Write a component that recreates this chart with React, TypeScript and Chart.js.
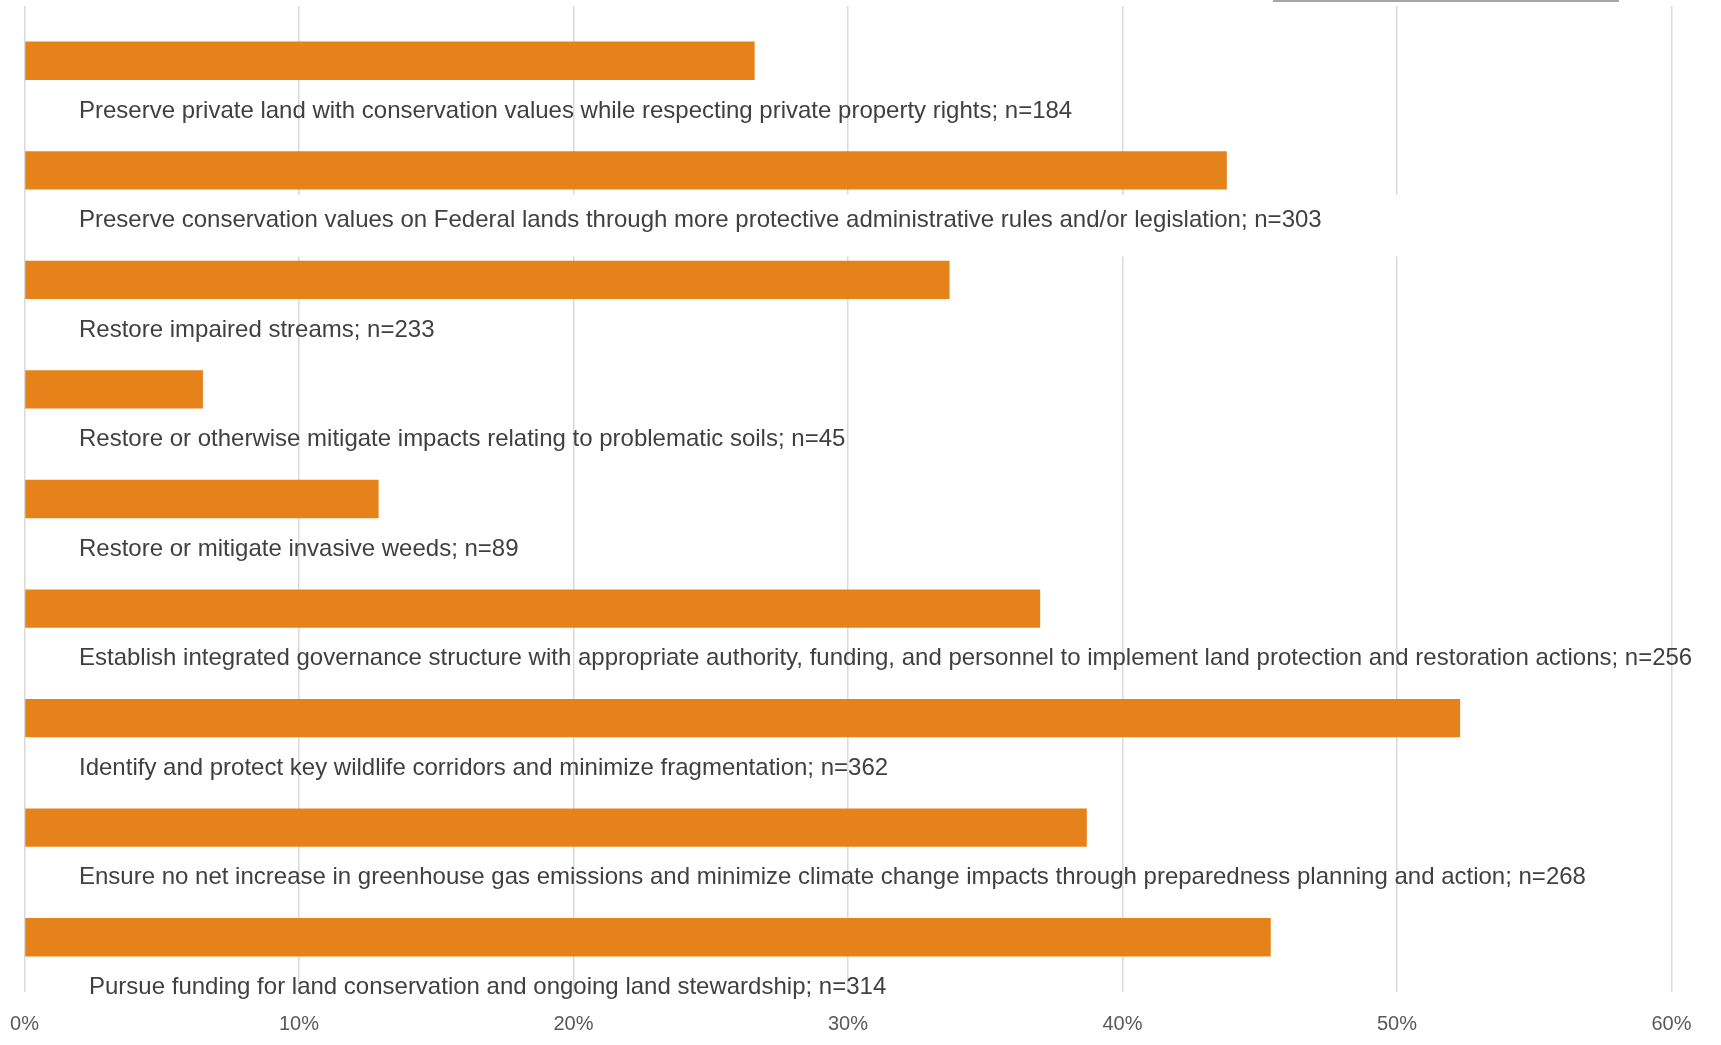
import React, { useEffect, useRef } from "react";
import { Chart, registerables } from "chart.js";

Chart.register(...registerables);

const categories: string[] = [
  "Preserve private land with conservation values while respecting private property rights",
  "Preserve conservation values on Federal lands through more protective administrative rules and/or legislation",
  "Restore impaired streams",
  "Restore or otherwise mitigate impacts relating to problematic soils",
  "Restore or mitigate invasive weeds",
  "Establish integrated governance structure with appropriate authority, funding, and personnel to implement land protection and restoration actions",
  "Identify and protect key wildlife corridors and minimize fragmentation",
  "Ensure no net increase in greenhouse gas emissions and minimize climate change impacts through preparedness planning and action",
  "Pursue funding for land conservation and ongoing land stewardship",
];

const counts: number[] = [184, 303, 233, 45, 89, 256, 362, 268, 314];

const percentages: number[] = [26.6, 43.8, 33.7, 6.5, 12.9, 37.0, 52.3, 38.7, 45.4];

const xTickValues: number[] = [0, 10, 20, 30, 40, 50, 60];

const BAR_COLOR = "#E6821A";
const TEXT_COLOR = "#404040";
const GRID_COLOR = "#D9D9D9";
const TICK_COLOR = "#595959";
const FONT = "'Liberation Sans', Arial, sans-serif";

const belowLabelsPlugin = {
  id: "belowLabels",
  afterDatasetsDraw(chart: any) {
    const { ctx, chartArea } = chart;
    const meta = chart.getDatasetMeta(0);
    ctx.save();
    ctx.font = `24px ${FONT}`;
    ctx.textBaseline = "middle";
    ctx.textAlign = "left";
    meta.data.forEach((bar: any, i: number) => {
      const p = bar.getProps(["y", "height"], true);
      const tx = chartArea.left + 54.5 + (i === categories.length - 1 ? 10 : 0);
      const ty = p.y + p.height / 2 + 31;
      const text = `${categories[i]}; n=${counts[i]}`;
      if (i === 1) {
        const w = ctx.measureText(text).width;
        ctx.fillStyle = "#FFFFFF";
        ctx.fillRect(tx - 40, ty - 26, w + 140, 62);
      }
      ctx.fillStyle = TEXT_COLOR;
      ctx.fillText(text, tx, ty);
    });
    ctx.restore();
  },
  afterDraw(chart: any) {
    const { ctx, width } = chart;
    ctx.save();
    ctx.strokeStyle = "#A6A6A6";
    ctx.lineWidth = 2;
    ctx.beginPath();
    ctx.moveTo(width * 0.7397, 1);
    ctx.lineTo(width * 0.9407, 1);
    ctx.stroke();
    ctx.restore();
  },
};

export default function App() {
  const canvasRef = useRef<HTMLCanvasElement | null>(null);

  useEffect(() => {
    if (!canvasRef.current) return;
    const chart = new Chart(canvasRef.current, {
      type: "bar",
      data: {
        labels: categories,
        datasets: [
          {
            data: percentages,
            backgroundColor: BAR_COLOR,
            borderWidth: 0,
            categoryPercentage: 1,
            barPercentage: 0.35,
          },
        ],
      },
      options: {
        indexAxis: "y",
        animation: false,
        responsive: false,
        devicePixelRatio: 1,
        layout: {
          padding: { left: 24.5, right: 49.5, top: 6, bottom: 0 },
        },
        plugins: {
          legend: { display: false },
          tooltip: { enabled: false },
          title: { display: false },
        },
        scales: {
          x: {
            type: "linear",
            min: 0,
            max: 60,
            afterBuildTicks: (scale: any) => {
              scale.ticks = xTickValues.map((v) => ({ value: v }));
            },
            afterFit: (scale: any) => {
              scale.height = 53;
            },
            grid: {
              color: GRID_COLOR,
              lineWidth: 1.5,
              drawTicks: true,
              tickLength: 20,
              tickColor: "rgba(0,0,0,0)",
            },
            border: { display: false },
            ticks: {
              padding: 0,
              color: TICK_COLOR,
              font: { family: FONT, size: 20 },
              callback: (v: any) => `${v}%`,
              maxRotation: 0,
            },
          },
          y: {
            type: "category",
            display: false,
            grid: { display: false },
          },
        },
      },
      plugins: [belowLabelsPlugin],
    });
    return () => chart.destroy();
  }, []);

  return (
    <div style={{ position: "fixed", left: 0, top: 0, width: 1721, height: 1045, background: "#FFFFFF" }}>
      <canvas ref={canvasRef} width={1721} height={1045} style={{ display: "block" }} />
    </div>
  );
}
